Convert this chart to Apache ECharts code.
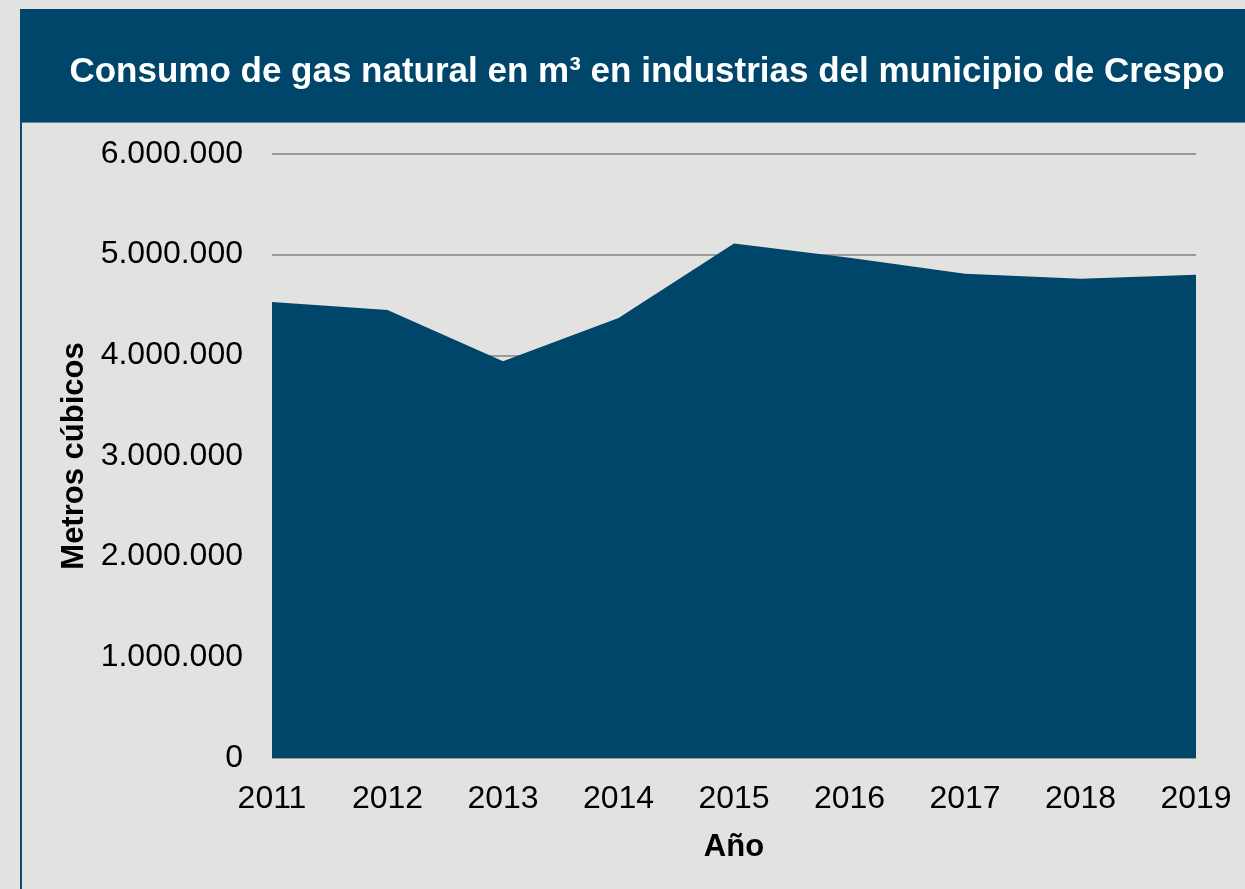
<!DOCTYPE html>
<html>
<head>
<meta charset="utf-8">
<script src="https://cdn.jsdelivr.net/npm/echarts@6/dist/echarts.min.js"></script>
<style>
  html, body { margin: 0; padding: 0; background: #e2e2e0; }
  #main { width: 1245px; height: 889px; }
</style>
</head>
<body>
<div id="main"></div>
<script>
// datos
const years = ['2011', '2012', '2013', '2014', '2015', '2016', '2017', '2018', '2019'];
const consumo = [4530000, 4450000, 3940000, 4370000, 5110000, 4970000, 4810000, 4760000, 4800000];
const titulo = 'Consumo de gas natural en m³ en industrias del municipio de Crespo';

const navy = '#00456a';
const fmt = v => String(v).replace(/\B(?=(\d{3})+(?!\d))/g, '.');

const myChart = echarts.init(document.getElementById('main'));
myChart.setOption({
  backgroundColor: '#e2e2e0',
  animation: false,
  graphic: [
    { type: 'rect', shape: { x: 20, y: 9, width: 1225, height: 113 }, style: { fill: navy }, z: -1 },
    { type: 'rect', shape: { x: 20, y: 122, width: 1225, height: 1 }, style: { fill: '#5f86a0' }, z: -1 },
    { type: 'rect', shape: { x: 20, y: 122, width: 2, height: 767 }, style: { fill: '#0b4d70' }, z: -1 }
  ],
  title: {
    text: titulo,
    left: 642,
    top: 50,
    textAlign: 'center',
    textStyle: { color: '#fff', fontSize: 35, fontWeight: 'bold', fontFamily: 'Liberation Sans' }
  },
  grid: { left: 272, right: 49, top: 154, bottom: 131 },
  xAxis: {
    type: 'category',
    data: years,
    boundaryGap: false,
    name: 'Año',
    nameLocation: 'middle',
    nameGap: 74,
    nameTextStyle: { color: '#000', fontSize: 31, fontWeight: 'bold', fontFamily: 'Liberation Sans' },
    axisLine: { show: false },
    axisTick: { show: false },
    axisLabel: { color: '#000', fontSize: 32, margin: 25, fontFamily: 'Liberation Sans' }
  },
  yAxis: {
    type: 'value',
    min: 0,
    max: 6000000,
    interval: 1000000,
    name: 'Metros cúbicos',
    nameLocation: 'middle',
    nameGap: 180,
    nameTextStyle: { color: '#000', fontSize: 31, fontWeight: 'bold', fontFamily: 'Liberation Sans' },
    axisLine: { show: false },
    axisTick: { show: false },
    splitLine: { lineStyle: { color: '#999', width: 2 } },
    axisLabel: { color: '#000', fontSize: 32, margin: 29, fontFamily: 'Liberation Sans', formatter: fmt }
  },
  series: [{
    type: 'line',
    data: consumo,
    symbol: 'none',
    lineStyle: { width: 0 },
    areaStyle: { color: navy, opacity: 1 },
    z: 3
  }]
});
</script>
</body>
</html>
